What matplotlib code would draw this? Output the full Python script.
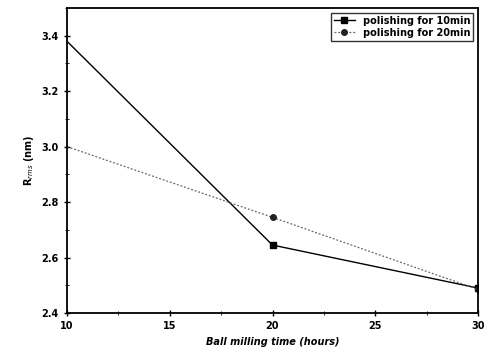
import matplotlib
matplotlib.use("Agg")
import matplotlib.pyplot as plt
from matplotlib.ticker import MultipleLocator

x = [10, 20, 30]
s10 = [3.38, 2.645, 2.49]
s20 = [3.0, 2.745, 2.485]
labels = ["polishing for 10min", "polishing for 20min"]

fig = plt.figure(figsize=(4.84, 3.62), dpi=100)
ax = fig.add_axes([67/484, 1-313/362, (478-67)/484, (313-8)/362])
ax.plot(x, s10, color="black", lw=1.0, marker="s", ms=5, markevery=[1, 2], label=labels[0])
ax.plot(x, s20, color="#666666", lw=0.9, ls=(0, (1.5, 1.5)), marker="o", ms=4,
        mfc="#222222", mec="#222222", markevery=[1, 2], label=labels[1])
ax.set_xlim(10, 30)
ax.set_ylim(2.4, 3.5)
ax.set_xticks([10, 15, 20, 25, 30])
ax.set_yticks([2.4, 2.6, 2.8, 3.0, 3.2, 3.4])
ax.set_yticklabels(["2.4", "2.6", "2.8", "3.0", "3.2", "3.4"])
ax.yaxis.set_minor_locator(MultipleLocator(0.1))
ax.xaxis.set_minor_locator(MultipleLocator(2.5))
ax.tick_params(direction="inout", length=5, labelsize=7, width=1)
ax.tick_params(which="minor", direction="inout", length=3)
for t in ax.get_xticklabels() + ax.get_yticklabels():
    t.set_fontweight("bold")
for sp in ax.spines.values():
    sp.set_linewidth(1.3)
ax.set_xlabel("Ball milling time (hours)", fontsize=7, fontweight="bold", fontstyle="italic")
ax.set_ylabel("R$_{rms}$ (nm)", fontsize=7, fontweight="bold")
leg = ax.legend(loc="upper right", fontsize=7, frameon=True, fancybox=False,
                edgecolor="black", handlelength=2.2, borderpad=0.3, labelspacing=0.2)
leg.get_frame().set_linewidth(1.0)
for t in leg.get_texts():
    t.set_fontweight("bold")
fig.savefig("out.png", dpi=100)
